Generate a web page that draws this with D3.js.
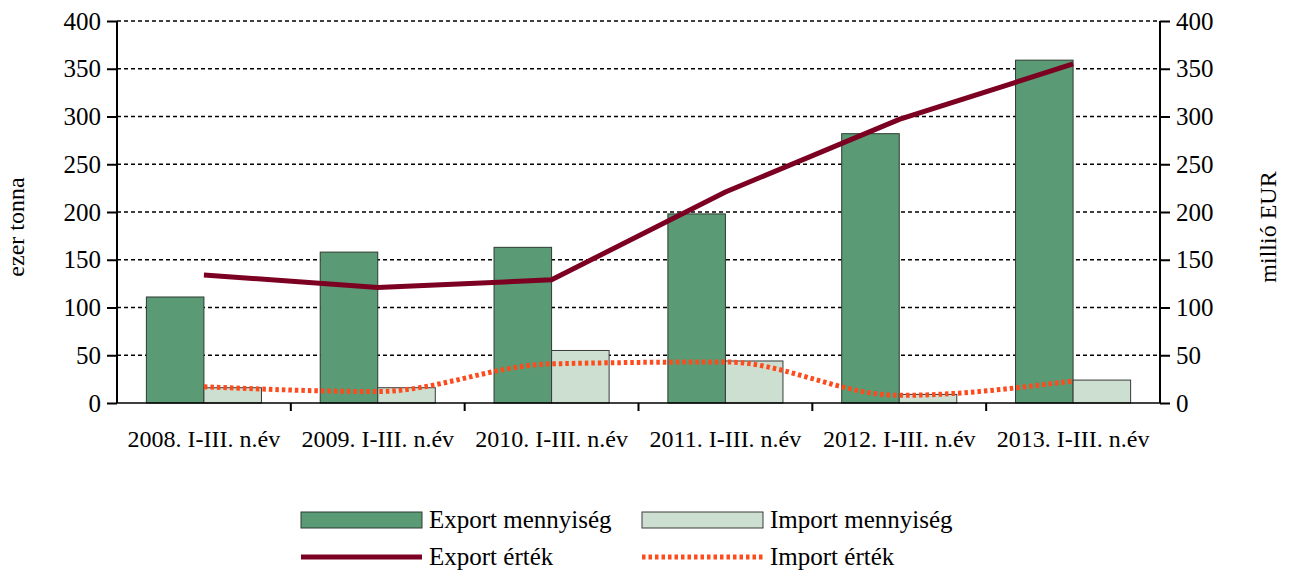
<!DOCTYPE html>
<html>
<head>
<meta charset="utf-8">
<script src="https://cdn.jsdelivr.net/npm/d3@7"></script>
<style>
    body { margin: 0; background: #fff; }
    text { font-family: "Liberation Serif", "Times New Roman", serif; fill: #000; }
</style>
</head>
<body>
<div id="chart"></div>
<script>
var categories = ["2008. I-III. n.év", "2009. I-III. n.év", "2010. I-III. n.év",
    "2011. I-III. n.év", "2012. I-III. n.év", "2013. I-III. n.év"];
var exportQty = [111, 158, 163, 198, 282, 359];
var importQty = [16, 16, 55, 44, 9, 24];
var exportVal = [134, 121, 129, 221, 297, 355];
var importVal = [17, 12, 41, 43, 8, 23];
var yTicks = [0, 50, 100, 150, 200, 250, 300, 350, 400];

var W = 1291, H = 572;
var margin = { top: 21, right: 131, bottom: 169, left: 117 };
var width = W - margin.left - margin.right,
    height = H - margin.top - margin.bottom;

var serif = "'Liberation Serif', 'Times New Roman', serif";

var svg = d3.select("#chart").append("svg")
    .attr("width", W)
    .attr("height", H);

var g = svg.append("g")
    .attr("transform", "translate(" + margin.left + "," + margin.top + ")");

var x = d3.scaleBand().domain(categories).range([0, width]).paddingInner(0).paddingOuter(0);
var y = d3.scaleLinear().domain([0, 400]).range([height, 0]);
var y2 = d3.scaleLinear().domain([0, 400]).range([height, 0]);

var barW = x.bandwidth() * 0.331;

// gridlines
g.selectAll(".grid").data(yTicks.slice(1))
    .enter().append("line")
    .attr("class", "grid")
    .attr("x1", 0).attr("x2", width)
    .attr("y1", function (d) { return y(d); })
    .attr("y2", function (d) { return y(d); })
    .attr("stroke", "#000")
    .attr("stroke-width", 1.5)
    .attr("stroke-dasharray", "4,3");

// bars
g.selectAll(".bar-exp").data(exportQty)
    .enter().append("rect")
    .attr("x", function (d, i) { return x(categories[i]) + x.bandwidth() / 2 - barW; })
    .attr("y", function (d) { return y(d); })
    .attr("width", barW)
    .attr("height", function (d) { return height - y(d); })
    .attr("fill", "#5a9a74")
    .attr("stroke", "#2e3a32")
    .attr("stroke-width", 1);

g.selectAll(".bar-imp").data(importQty)
    .enter().append("rect")
    .attr("x", function (d, i) { return x(categories[i]) + x.bandwidth() / 2; })
    .attr("y", function (d) { return y(d); })
    .attr("width", barW)
    .attr("height", function (d) { return height - y(d); })
    .attr("fill", "#cddfd0")
    .attr("stroke", "#3a3a3a")
    .attr("stroke-width", 1);

// x axis
var xAxis = g.append("g")
    .attr("transform", "translate(0," + height + ")");
xAxis.append("line")
    .attr("x1", 0).attr("x2", width)
    .attr("stroke", "#000").attr("stroke-width", 1.5);
xAxis.selectAll(".xtick").data(d3.range(1, categories.length))
    .enter().append("line")
    .attr("x1", function (d) { return d * x.bandwidth(); })
    .attr("x2", function (d) { return d * x.bandwidth(); })
    .attr("y1", 0).attr("y2", 8)
    .attr("stroke", "#000").attr("stroke-width", 2);
xAxis.selectAll(".xlabel").data(categories)
    .enter().append("text")
    .attr("x", function (d) { return x(d) + x.bandwidth() / 2; })
    .attr("y", 44)
    .attr("text-anchor", "middle")
    .style("font-family", serif)
    .style("font-size", "24px")
    .text(function (d) { return d; });

// y axes
var yAxisL = d3.axisLeft(y).tickValues(yTicks).tickSize(10).tickPadding(6);
var yAxisR = d3.axisRight(y2).tickValues(yTicks).tickSize(10).tickPadding(6);

function styleAxis(a) {
    a.attr("font-family", serif);
    a.select(".domain").attr("stroke-width", 2).attr("d", "M0,0V" + height);
    a.selectAll(".tick line").attr("stroke-width", 2);
    a.selectAll("text").style("font-size", "25px").style("font-family", serif);
}

g.append("g").call(yAxisL).call(styleAxis);
g.append("g").attr("transform", "translate(" + width + ",0)").call(yAxisR).call(styleAxis);

// lines
var lineExp = d3.line()
    .x(function (d, i) { return x(categories[i]) + x.bandwidth() / 2; })
    .y(function (d) { return y2(d); });

var lineImp = d3.line()
    .curve(d3.curveMonotoneX)
    .x(function (d, i) { return x(categories[i]) + x.bandwidth() / 2; })
    .y(function (d) { return y2(d); });

g.append("path").datum(exportVal)
    .attr("d", lineExp)
    .attr("fill", "none")
    .attr("stroke", "#7b0022")
    .attr("stroke-width", 5);

g.append("path").datum(importVal)
    .attr("d", lineImp)
    .attr("fill", "none")
    .attr("stroke", "#ff4a1c")
    .attr("stroke-width", 5)
    .attr("stroke-dasharray", "3.5,3");

// axis titles
svg.append("text")
    .attr("transform", "translate(24," + (margin.top + height / 2 + 15) + ") rotate(-90)")
    .attr("text-anchor", "middle")
    .style("font-family", serif)
    .style("font-size", "24px")
    .text("ezer tonna");

svg.append("text")
    .attr("transform", "translate(1276," + (margin.top + height / 2 + 15) + ") rotate(-90)")
    .attr("text-anchor", "middle")
    .style("font-family", serif)
    .style("font-size", "24px")
    .text("millió EUR");

// legend
var legendItems = [
    { label: "Export mennyiség", type: "rect", fill: "#5a9a74", stroke: "#2e3a32", x: 301, y: 520 },
    { label: "Import mennyiség", type: "rect", fill: "#cddfd0", stroke: "#3a3a3a", x: 642, y: 520 },
    { label: "Export érték", type: "line", stroke: "#7b0022", x: 301, y: 557 },
    { label: "Import érték", type: "dash", stroke: "#ff4a1c", x: 642, y: 557 }
];

var legend = svg.append("g").attr("class", "legend");
legendItems.forEach(function (d) {
    var it = legend.append("g").attr("transform", "translate(" + d.x + "," + d.y + ")");
    if (d.type === "rect") {
        it.append("rect")
            .attr("x", 0).attr("y", -8)
            .attr("width", 121).attr("height", 16)
            .attr("fill", d.fill)
            .attr("stroke", d.stroke)
            .attr("stroke-width", 1);
    } else {
        it.append("line")
            .attr("x1", 0).attr("x2", 121)
            .attr("y1", 0).attr("y2", 0)
            .attr("stroke", d.stroke)
            .attr("stroke-width", 5)
            .attr("stroke-dasharray", d.type === "dash" ? "3.5,3" : null);
    }
    it.append("text")
        .attr("x", 128).attr("y", 8)
        .style("font-family", serif)
        .style("font-size", "25px")
        .text(d.label);
});
</script>
</body>
</html>
